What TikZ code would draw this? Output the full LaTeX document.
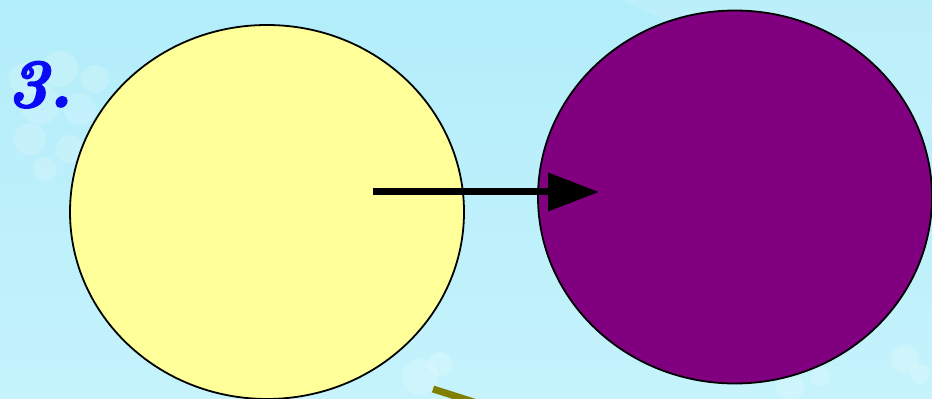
\documentclass[tikz,border=0pt]{standalone}
\usepackage{fontspec}
\newfontfamily\numfont[FakeBold=2.5]{lmroman10-bolditalic.otf}
\usetikzlibrary{shapes.geometric,arrows.meta}
\definecolor{bgtop}{HTML}{B2EDFA}
\definecolor{bgbot}{HTML}{C6F3FC}
\definecolor{ylw}{HTML}{FFFF99}
\definecolor{prp}{HTML}{800080}
\definecolor{olv}{HTML}{808000}
\definecolor{numblue}{HTML}{0A0AF5}
\tikzset{
  blob/.style={ellipse, draw=black, line width=1.8pt, inner sep=0pt},
  flake/.style={fill=white, opacity=0.18},
}
\begin{document}
\begin{tikzpicture}[x=1pt,y=1pt]
\useasboundingbox (0,0) rectangle (932,399);
\shade[top color=bgtop, bottom color=bgbot] (0,0) rectangle (932,399);
\fill[white, opacity=0.12] (932,399) -- (620,399) -- (932,260) -- cycle;
% faint snowflakes
\foreach \x/\y/\r in {25/320/16, 60/330/18, 95/320/14, 40/295/20, 80/290/16, 30/260/16, 70/250/14, 45/230/12, 420/22/18, 440/35/12, 790/12/14, 820/22/10, 905/40/14, 920/25/10}{
  \fill[flake] (\x,\y) circle (\r);
}
\begin{scope}
\clip (0,0) rectangle (932,399);
\node[blob, fill=ylw, minimum width=394pt, minimum height=374pt] (Y) at (267,187) {};
\node[blob, fill=prp, minimum width=394pt, minimum height=373pt] (P) at (735,202) {};
\coordinate (A) at (373,207);
\coordinate (B) at (599,207);
\draw[line width=7pt, -{Triangle[length=51pt,width=37pt]}] (A) -- (B);
\coordinate (C) at (433,10);
\coordinate (D) at (480,-5);
\draw[olv, line width=7pt] (C) -- (D);
\end{scope}
\node[anchor=base west, inner sep=0pt, text=numblue, font=\fontsize{69}{69}\numfont] (N) at (7,292) {3.};
\end{tikzpicture}
\end{document}
